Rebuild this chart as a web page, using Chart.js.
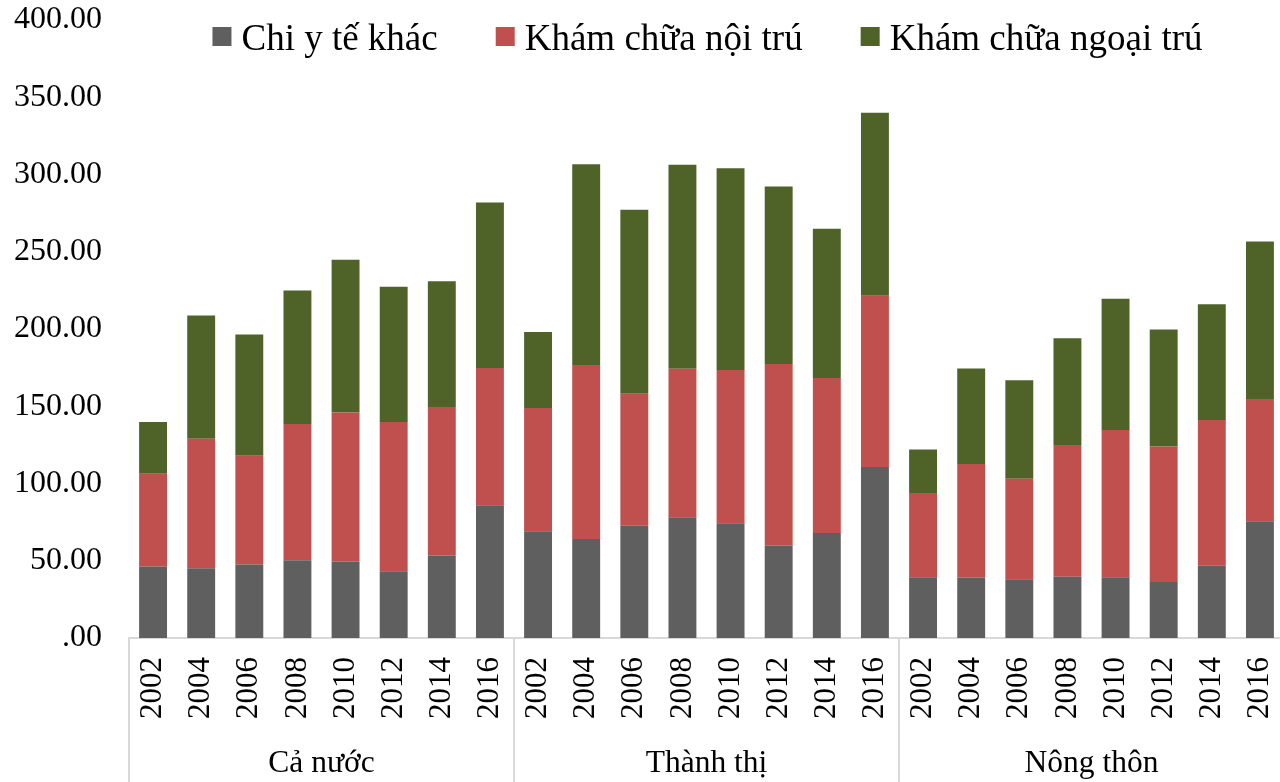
<!DOCTYPE html>
<html>
<head>
<meta charset="utf-8">
<script src="https://cdn.jsdelivr.net/npm/chart.js@4"></script>
<style>
  html, body { margin: 0; padding: 0; background: #fff; overflow: hidden; }
  #wrap { width: 1284px; height: 782px; position: relative; }
</style>
</head>
<body>
<div id="wrap"><canvas id="spendChart"></canvas></div>
<script>
// tick labels
const years = ['2002', '2004', '2006', '2008', '2010', '2012', '2014', '2016'];
const groups = ['Cả nước', 'Thành thị', 'Nông thôn'];

// series
const chiYTeKhac = [46.2, 45.2, 47.5, 50.3, 49.5, 43.2, 53.4, 86.0,
                    69.1, 64.0, 72.6, 78.2, 74.3, 59.8, 67.9, 110.6,
                    39.3, 39.1, 38.0, 39.7, 39.3, 36.3, 46.7, 75.6];
const noiTru = [60.1, 83.8, 70.5, 88.2, 96.5, 96.6, 96.1, 88.8,
                79.8, 112.7, 85.5, 96.1, 99.2, 117.6, 100.4, 110.9,
                54.5, 73.5, 65.0, 85.2, 95.3, 87.7, 94.4, 79.1];
const ngoaiTru = [33.5, 79.7, 78.4, 86.4, 98.8, 87.5, 81.4, 107.1,
                  49.2, 130.0, 119.1, 132.0, 130.5, 114.9, 96.6, 118.5,
                  28.2, 61.9, 63.8, 69.1, 84.9, 75.6, 74.9, 101.9];

const serif = "'Liberation Serif', 'Times New Roman', serif";
Chart.defaults.font.family = serif;
Chart.defaults.color = '#000';

const labels = [];
groups.forEach(g => years.forEach(y => labels.push(y)));

// legend drawn on the canvas, centred over the plot
const topLegend = {
  id: 'topLegend',
  afterDraw(chart) {
    const c = chart.ctx;
    const box = 19, gap = 10, between = 58;
    c.save();
    c.font = '37px ' + serif;
    const items = chart.data.datasets.map(ds => ({
      text: ds.label, color: ds.backgroundColor, w: c.measureText(ds.label).width
    }));
    let total = 0;
    items.forEach((it, i) => { total += box + gap + it.w + (i ? between : 0); });
    let x = 707.5 - total / 2;
    items.forEach(it => {
      c.fillStyle = it.color;
      c.fillRect(x, 27, box, box);
      c.fillStyle = '#000';
      c.textBaseline = 'alphabetic';
      c.textAlign = 'left';
      c.fillText(it.text, x + box + gap, 50);
      x += box + gap + it.w + between;
    });
    c.restore();
  }
};

// group names and separator lines under the year labels
const groupAxis = {
  id: 'groupAxis',
  afterDraw(chart) {
    const c = chart.ctx;
    const xs = chart.scales.x;
    const area = chart.chartArea;
    const n = years.length;
    c.save();
    c.strokeStyle = '#d9d9d9';
    c.lineWidth = 2;
    const edges = [area.left];
    for (let g = 1; g < groups.length; g++) {
      edges.push((xs.getPixelForValue(g * n - 1) + xs.getPixelForValue(g * n)) / 2);
    }
    edges.push(area.right);
    edges.forEach(x => {
      c.beginPath();
      c.moveTo(x, area.bottom);
      c.lineTo(x, chart.height);
      c.stroke();
    });
    c.font = '31.5px ' + serif;
    c.fillStyle = '#000';
    c.textAlign = 'center';
    c.textBaseline = 'alphabetic';
    groups.forEach((g, i) => {
      const mid = (xs.getPixelForValue(i * n) + xs.getPixelForValue(i * n + n - 1)) / 2;
      c.fillText(g, mid, 772);
    });
    c.restore();
  }
};

const ctx = document.getElementById('spendChart');

new Chart(ctx, {
  type: 'bar',
  data: {
    labels: labels,
    datasets: [{
      label: 'Chi y tế khác',
      data: chiYTeKhac,
      backgroundColor: '#5f5f5f'
    }, {
      label: 'Khám chữa nội trú',
      data: noiTru,
      backgroundColor: '#c0504d'
    }, {
      label: 'Khám chữa ngoại trú',
      data: ngoaiTru,
      backgroundColor: '#4f6228'
    }]
  },
  options: {
    responsive: true,
    maintainAspectRatio: false,
    animation: false,
    datasets: {
      bar: { categoryPercentage: 1, barPercentage: 0.58 }
    },
    layout: { padding: { top: 20, right: 0, bottom: 0, left: 0 } },
    plugins: {
      legend: { display: false },
      tooltip: { enabled: false }
    },
    scales: {
      x: {
        stacked: true,
        grid: { display: false, drawTicks: false },
        border: { display: true, color: '#d9d9d9', width: 2 },
        ticks: {
          font: { size: 31 },
          color: '#000',
          minRotation: 90,
          maxRotation: 90,
          padding: 19,
          autoSkip: false
        },
        afterFit: (scale) => {
          scale.height = 144;
          scale.paddingLeft = 0;
          scale.paddingRight = 0;
        }
      },
      y: {
        stacked: true,
        min: 0,
        max: 400,
        grid: { display: false, drawTicks: false },
        border: { display: false },
        ticks: {
          stepSize: 50,
          padding: 27,
          font: { size: 32 },
          color: '#000',
          callback: (v) => v === 0 ? '.00' : v.toFixed(2)
        },
        afterFit: (scale) => {
          scale.width = 129;
          scale.paddingTop = 0;
          scale.paddingBottom = 0;
        }
      }
    }
  },
  plugins: [topLegend, groupAxis]
});
</script>
</body>
</html>
